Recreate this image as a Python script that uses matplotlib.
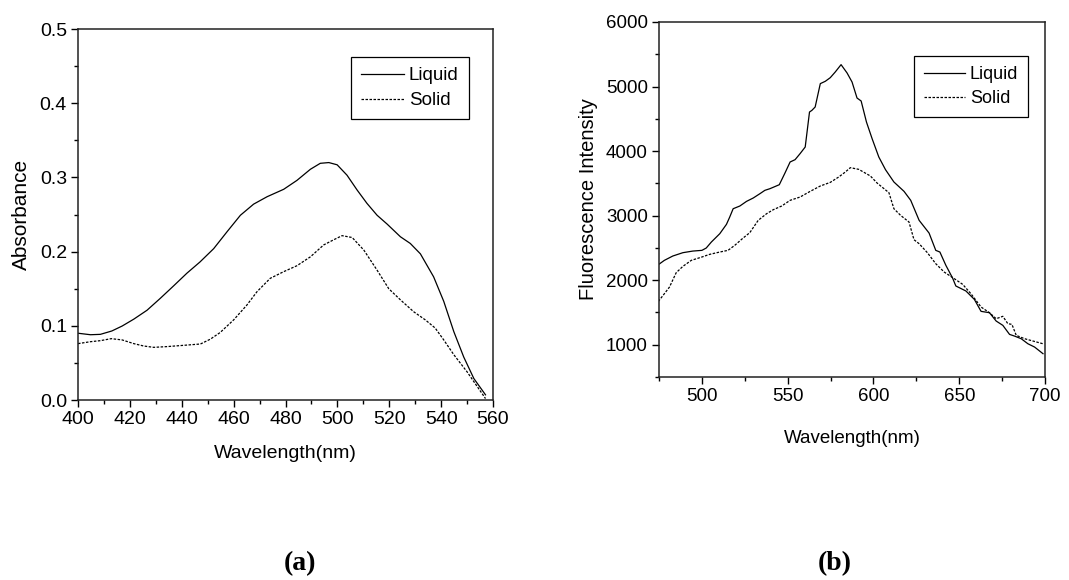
import matplotlib
matplotlib.use("Agg")
import matplotlib.pyplot as plt
from matplotlib.ticker import MultipleLocator, FormatStrFormatter

plt.rcParams['font.family'] = ['Liberation Sans', 'DejaVu Sans']

# (a) Absorption spectra
abs_wl_liquid = [400, 404.8, 408.6, 413, 417, 421.5, 426.6, 431.7, 436.9, 442, 447, 452.3,
                 457.5, 462.6, 467.7, 472.9, 479.3, 484.4, 489.6, 493.4, 496.7, 499.9, 503.7,
                 507.6, 511.4, 515.3, 519.2, 524.3, 528.1, 532, 537.1, 541, 544.9, 548.7,
                 552.6, 557.1]
abs_liquid = [0.090, 0.088, 0.0885, 0.093, 0.0997, 0.109, 0.121, 0.137, 0.154, 0.171, 0.186,
              0.204, 0.227, 0.249, 0.264, 0.274, 0.284, 0.296, 0.311, 0.319, 0.320, 0.317,
              0.303, 0.283, 0.265, 0.249, 0.237, 0.220, 0.211, 0.197, 0.166, 0.133, 0.092,
              0.058, 0.029, 0.007]
abs_wl_solid = [400, 404.8, 408.6, 412.8, 417, 421.5, 425.3, 429.2, 434.3, 440.7, 447.2, 451,
                454.8, 460, 465.1, 469, 474.1, 479.3, 484.4, 489.6, 494.7, 498.6, 501.8, 505.7,
                510.2, 515.3, 519.8, 524.3, 529.4, 533.9, 537.7, 541, 544.9, 550, 557.1]
abs_solid = [0.076, 0.0786, 0.080, 0.0827, 0.081, 0.076, 0.0728, 0.071, 0.072, 0.0737, 0.0755,
             0.082, 0.091, 0.108, 0.128, 0.146, 0.164, 0.173, 0.181, 0.193, 0.209, 0.216,
             0.2215, 0.219, 0.202, 0.175, 0.150, 0.135, 0.119, 0.108, 0.097, 0.081, 0.061,
             0.038, 0.002]

# (b) Fluorescence spectra
fl_wl_liquid = [474.6, 478.1, 483, 488.9, 494.7, 500, 502.5, 505.5, 510.4, 514.3, 516.2, 518.2,
                522.1, 526, 529.9, 533.8, 536.7, 539.6, 545.1, 548.4, 551.4, 554.3, 557.2,
                560.2, 562.7, 564.1, 566, 569, 571.9, 574.8, 577.7, 581.1, 584.6, 587.5,
                590.4, 592.8, 595.9, 599.2, 603.1, 607, 611.9, 617.8, 621.7, 626.6, 632.4,
                636.3, 638.7, 642.2, 646.1, 648, 653.9, 658.8, 662.7, 667.6, 671.5, 675.4,
                679.3, 682.2, 686.1, 690, 693.9, 698.8]
fl_liquid = [2240, 2307, 2374, 2426, 2451, 2462, 2498, 2591, 2720, 2865, 2978, 3107, 3149, 3221,
             3273, 3340, 3392, 3417, 3479, 3660, 3831, 3867, 3960, 4063, 4605, 4631, 4683,
             5045, 5081, 5137, 5225, 5339, 5210, 5070, 4822, 4776, 4450, 4192, 3908, 3712,
             3521, 3376, 3237, 2927, 2730, 2462, 2436, 2229, 2033, 1910, 1832, 1702, 1517,
             1496, 1367, 1300, 1160, 1134, 1093, 1015, 964, 861]
fl_wl_solid = [474.6, 478.1, 481.1, 485, 488.9, 493.8, 500, 504.5, 510.4, 515.2, 519.1, 524,
               527.9, 532.8, 537.7, 541.6, 546.5, 551.4, 557.2, 563.1, 569, 574.8, 579.7,
               583.6, 586.5, 591.4, 598.2, 602.1, 609, 611.9, 615.8, 620.7, 623.6, 626.6,
               631.4, 636.3, 641.2, 647.1, 652, 656.8, 662.7, 667.6, 671.5, 675.4, 678.3,
               680.7, 683.2, 688.1, 693, 698.8]
fl_solid = [1671, 1790, 1894, 2116, 2214, 2307, 2359, 2400, 2436, 2462, 2539, 2653, 2736, 2927,
            3030, 3092, 3149, 3237, 3288, 3376, 3459, 3515, 3598, 3676, 3743, 3717, 3614,
            3505, 3355, 3107, 3004, 2901, 2627, 2565, 2426, 2255, 2126, 2023, 1935, 1790,
            1584, 1496, 1403, 1440, 1326, 1315, 1145, 1093, 1057, 1015]

DASH = (0, (2.0, 1.2))
LW = 0.9

fig = plt.figure(figsize=(10.69, 5.80), dpi=100)
ax1 = fig.add_axes([0.0730, 0.3103, 0.3882, 0.6397])
ax2 = fig.add_axes([0.6165, 0.3500, 0.3611, 0.6121])


def style_axes(ax, tick_size):
    for side in ('left', 'bottom', 'top', 'right'):
        ax.spines[side].set_linewidth(1.1)
        ax.spines[side].set_color('#222222')
    ax.tick_params(which='both', direction='out', top=False, right=False,
                   width=1.0, labelsize=tick_size, colors='black')
    ax.tick_params(which='major', length=5, pad=3)
    ax.tick_params(which='minor', length=3)


def add_legend(ax, anchor, size):
    leg = ax.legend(loc='upper right', bbox_to_anchor=anchor, borderaxespad=0,
                    fancybox=False, edgecolor='black', fontsize=size, handlelength=2.3,
                    handletextpad=0.25, borderpad=0.55, labelspacing=0.4, framealpha=1)
    leg.get_frame().set_linewidth(0.9)
    return leg


# Panel (a)
ax1.plot(abs_wl_liquid, abs_liquid, color='black', lw=LW, label='Liquid')
ax1.plot(abs_wl_solid, abs_solid, color='black', lw=LW, linestyle=DASH, label='Solid')
ax1.set_xlim(400, 560)
ax1.set_ylim(0.0, 0.5)
ax1.xaxis.set_major_locator(MultipleLocator(20))
ax1.xaxis.set_minor_locator(MultipleLocator(10))
ax1.yaxis.set_major_locator(MultipleLocator(0.1))
ax1.yaxis.set_minor_locator(MultipleLocator(0.05))
ax1.yaxis.set_major_formatter(FormatStrFormatter('%.1f'))
style_axes(ax1, 14)
ax1.set_xlabel('Wavelength(nm)', fontsize=14, labelpad=12)
ax1.set_ylabel('Absorbance', fontsize=15, labelpad=6)
add_legend(ax1, (0.942, 0.9245), 13.5)

# Panel (b)
ax2.plot(fl_wl_liquid, fl_liquid, color='black', lw=LW, label='Liquid')
ax2.plot(fl_wl_solid, fl_solid, color='black', lw=LW, linestyle=DASH, label='Solid')
ax2.set_xlim(475, 700)
ax2.set_ylim(500, 6000)
ax2.xaxis.set_major_locator(MultipleLocator(50))
ax2.xaxis.set_minor_locator(MultipleLocator(25))
ax2.yaxis.set_major_locator(MultipleLocator(1000))
ax2.yaxis.set_minor_locator(MultipleLocator(500))
style_axes(ax2, 13.5)
ax2.set_xlabel('Wavelength(nm)', fontsize=13.5, labelpad=18)
ax2.set_ylabel('Fluorescence Intensity', fontsize=14.5, labelpad=6)
add_legend(ax2, (0.956, 0.904), 13)

# Panel captions
fig.text(300 / 1069, 1 - 564 / 580, '(a)', fontsize=20, fontweight='bold',
         family='Liberation Serif', ha='center', va='center')
fig.text(835 / 1069, 1 - 564 / 580, '(b)', fontsize=20, fontweight='bold',
         family='Liberation Serif', ha='center', va='center')

fig.savefig('out.png', dpi=100)
